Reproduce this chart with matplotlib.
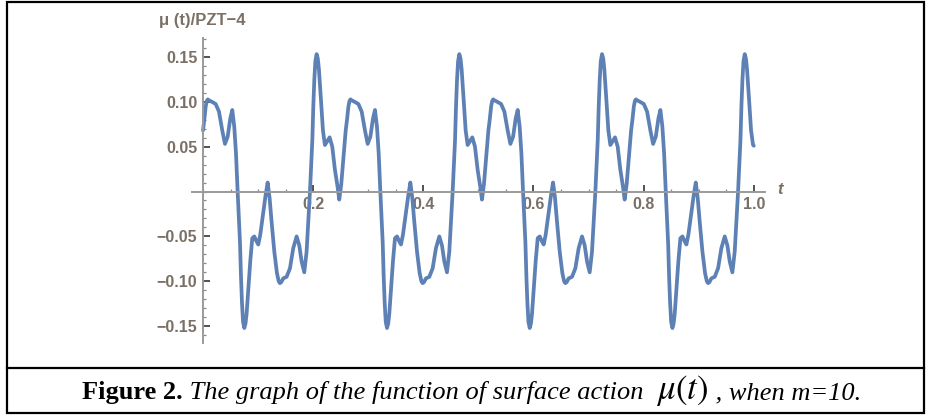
import numpy as np
import matplotlib
matplotlib.use("Agg")
import matplotlib.pyplot as plt
from matplotlib.patches import Rectangle
from matplotlib.lines import Line2D
from matplotlib.ticker import MultipleLocator

# one cycle of mu(t) (the curve repeats every ~0.259)
cycle_t = [0.0, 0.0024, 0.0050, 0.0070, 0.0088, 0.0110, 0.0158, 0.0230, 0.0290, 0.0350,
           0.0399, 0.0448, 0.0496, 0.0532, 0.0568, 0.0599, 0.0629, 0.0672, 0.0690, 0.0708,
           0.0727, 0.0750, 0.0772, 0.0792, 0.0812, 0.0829, 0.0859, 0.0895, 0.0932, 0.0968,
           0.1004, 0.1040, 0.1089, 0.1137, 0.1174, 0.1210, 0.1246, 0.1295, 0.1343, 0.1375,
           0.1397, 0.1420, 0.1458, 0.1518, 0.1579, 0.1639, 0.1700, 0.1748, 0.1791, 0.1839,
           0.1881, 0.1912, 0.1942, 0.1985, 0.2003, 0.2021, 0.2040, 0.2063, 0.2085, 0.2105,
           0.2125, 0.2142, 0.2178, 0.2214, 0.2250, 0.2299, 0.2347, 0.2396, 0.2444, 0.2474,
           0.2510, 0.2540, 0.2570]
cycle_mu = [0.068, 0.080, 0.095, 0.101, 0.1026, 0.1015, 0.100, 0.0975, 0.089, 0.068,
            0.053, 0.061, 0.0815, 0.0908, 0.072, 0.0425, 0.0, -0.057, -0.095, -0.124,
            -0.145, -0.152, -0.147, -0.136, -0.118, -0.102, -0.077, -0.052, -0.050, -0.055,
            -0.059, -0.048, -0.026, -0.004, 0.010, -0.0076, -0.034, -0.067, -0.091, -0.100,
            -0.102, -0.101, -0.0967, -0.095, -0.0855, -0.063, -0.050, -0.060, -0.078, -0.090,
            -0.067, -0.034, 0.0, 0.057, 0.095, 0.124, 0.145, 0.153, 0.148, 0.136,
            0.118, 0.102, 0.068, 0.0518, 0.0555, 0.0603, 0.050, 0.024, 0.005, -0.009,
            0.008, 0.030, 0.052]
# where each cycle starts on the t axis
cycle_starts = [0.0, 0.2591, 0.5182, 0.7773]
t_end = 1.0
mu_end = 0.051

x_ticks = [0.2, 0.4, 0.6, 0.8, 1.0]
x_labels = ["0.2", "0.4", "0.6", "0.8", "1.0"]
y_ticks = [-0.15, -0.10, -0.05, 0.05, 0.10, 0.15]
y_labels = ["\u22120.15", "\u22120.10", "\u22120.05", "0.05", "0.10", "0.15"]

# build the curve from the cycles
t = np.concatenate([np.array(cycle_t) + s for s in cycle_starts])
mu = np.tile(cycle_mu, len(cycle_starts))
keep = t < t_end
t = np.append(t[keep], t_end)
mu = np.append(mu[keep], mu_end)

W, H = 933, 416
plt.rcParams["mathtext.fontset"] = "stix"
fig = plt.figure(figsize=(W / 100, H / 100), dpi=100)
fig.patch.set_facecolor("white")

# axes box in pixels: x 191.7..765, y 38.3..343.3 (from top)
ax = fig.add_axes([191.7 / W, 1 - 343.3 / H, (765 - 191.7) / W, (343.3 - 38.3) / H])
ax.set_xlim(-0.0205, 1.0204)
ax.set_ylim(-0.169, 0.1706)
ax.patch.set_alpha(0)

ax.plot(t, mu, color="#5E81B5", lw=2.7, solid_joinstyle="round", solid_capstyle="round")

for side in ["top", "right"]:
    ax.spines[side].set_visible(False)
ax.spines["left"].set_position(("data", 0))
ax.spines["bottom"].set_position(("data", 0))
for side in ["left", "bottom"]:
    ax.spines[side].set_color("#9a9a9a")
    ax.spines[side].set_linewidth(1.4)

lab_color = "#7b7066"
ax.set_xticks(x_ticks)
ax.set_xticklabels(x_labels)
ax.set_yticks(y_ticks)
ax.set_yticklabels(y_labels)
ax.xaxis.set_minor_locator(MultipleLocator(0.05))
ax.yaxis.set_minor_locator(MultipleLocator(0.01))
ax.tick_params(which="major", direction="in", length=5, width=1.3, color="#444444",
               labelsize=11.5, labelcolor=lab_color, pad=4)
ax.tick_params(which="minor", direction="in", length=2.5, width=0.9, color="#888888")
for lab in ax.get_xticklabels() + ax.get_yticklabels():
    lab.set_fontfamily("Liberation Sans")
    lab.set_fontweight("bold")

# axis labels
fig.text(159 / W, 1 - 20 / H, "\u03bc (t)/PZT\u22124", color=lab_color, fontsize=12,
         fontweight="bold", family="Liberation Sans", ha="left", va="center")
fig.text(777 / W, 1 - 190 / H, "t", color=lab_color, fontsize=12, style="italic",
         fontweight="bold", family="Liberation Sans", ha="left", va="center")

# frame and caption box
fig.add_artist(Rectangle((7 / W, 3 / H), (924 - 7) / W, (414 - 3) / H, transform=fig.transFigure,
                         fill=False, edgecolor="black", lw=1.6))
fig.add_artist(Line2D([7 / W, 924 / W], [1 - 368 / H, 1 - 368 / H], transform=fig.transFigure,
                      color="black", lw=1.6))

# caption pieces written one after the other
pieces = [
    ("Figure 2.", dict(family="Liberation Serif", fontweight="bold", fontsize=19)),
    (" The graph of the function of surface action  ", dict(family="Liberation Serif", style="italic", fontsize=19)),
    (r"$\mu(t)$", dict(fontsize=25)),
    (" , when m=10.", dict(family="Liberation Serif", style="italic", fontsize=19)),
]
renderer = fig.canvas.get_renderer()
x = 82.0
base_y = 1 - 399.5 / H
for s, kw in pieces:
    txt = fig.text(x / W, base_y, s, ha="left", va="baseline", color="black", **kw)
    bb = txt.get_window_extent(renderer)
    x = bb.x1

fig.savefig("out.png", dpi=100)
